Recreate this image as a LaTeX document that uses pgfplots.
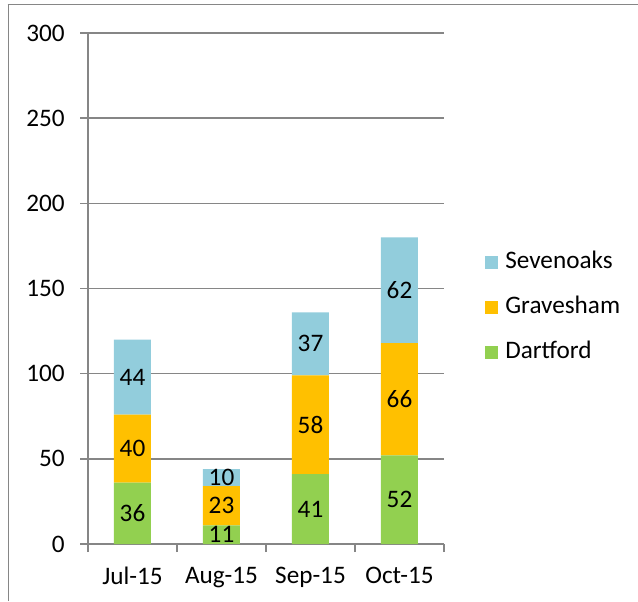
\documentclass[border=0pt]{standalone}
\usepackage{fontspec}
\setmainfont{Carlito}
\usepackage{pgfplots}
\pgfplotsset{compat=1.18}
\usepackage{pgfplotstable}
\definecolor{sev}{HTML}{92CDDC}
\definecolor{gra}{HTML}{FFC000}
\definecolor{dar}{HTML}{92D050}
\definecolor{axgray}{HTML}{868686}

\pgfplotstableread{
x d g s
0 36 40 44
1 11 23 10
2 41 58 37
3 52 66 62
}\data

\begin{document}
\fontsize{12.6}{15}\selectfont
\begin{tikzpicture}
\path[use as bounding box] (0,0) rectangle (319pt,300.5pt);
\draw[axgray, line width=0.8pt] (4.2pt,0pt) -- (4.2pt,298.3pt);
\draw[axgray, line width=0.8pt] (3.8pt,298.3pt) -- (319pt,298.3pt);
\begin{axis}[
 at={(44pt,28.5pt)}, anchor=south west,
 scale only axis, width=178pt, height=255.5pt,
 ybar stacked, bar width=18.5pt,
 xmin=-0.5, xmax=3.5, ymin=0, ymax=300,
 ytick={0,50,...,300},
 xtick={-0.5,0.5,1.5,2.5,3.5}, xticklabels={},
 extra x ticks={0,1,2,3},
 extra x tick labels={Jul-15,Aug-15,Sep-15,Oct-15},
 extra x tick style={major tick length=0pt},
 axis x line*=bottom, axis y line*=left,
 axis line style={axgray, line width=0.7pt, -},
 ymajorgrids, grid style={axgray, line width=0.7pt},
 tick align=outside, major tick length=4pt,
 tick style={axgray, line width=0.7pt},
 /pgf/number format/assume math mode=true,
 yticklabel style={inner sep=0pt, anchor=east, xshift=-7.5pt},
 xticklabel style={inner sep=0pt, anchor=north, yshift=-11.5pt},
 nodes near coords, point meta=explicit symbolic,
 nodes near coords align={center},
 every node near coord/.append style={anchor=center, black, inner sep=0pt},
 reverse legend,
 legend cell align=left,
 legend image code/.code={\draw[#1,draw=none] (0pt,-3.25pt) rectangle (6.5pt,3.25pt);},
 legend style={at={(1.115,0.4637)}, anchor=west, draw=none, fill=none, inner sep=0pt,
   row sep=11.5pt, column sep=3.5pt,
   nodes={inner sep=0pt, text height=8.5pt, text depth=2.5pt}},
]
\addplot[fill=dar, draw=none] table[x=x, y=d, meta=d] {\data};
\addplot[fill=gra, draw=none] table[x=x, y=g, meta=g] {\data};
\addplot[fill=sev, draw=none] table[x=x, y=s, meta=s] {\data};
\legend{Dartford, Gravesham, Sevenoaks}
\end{axis}
\end{tikzpicture}
\end{document}
